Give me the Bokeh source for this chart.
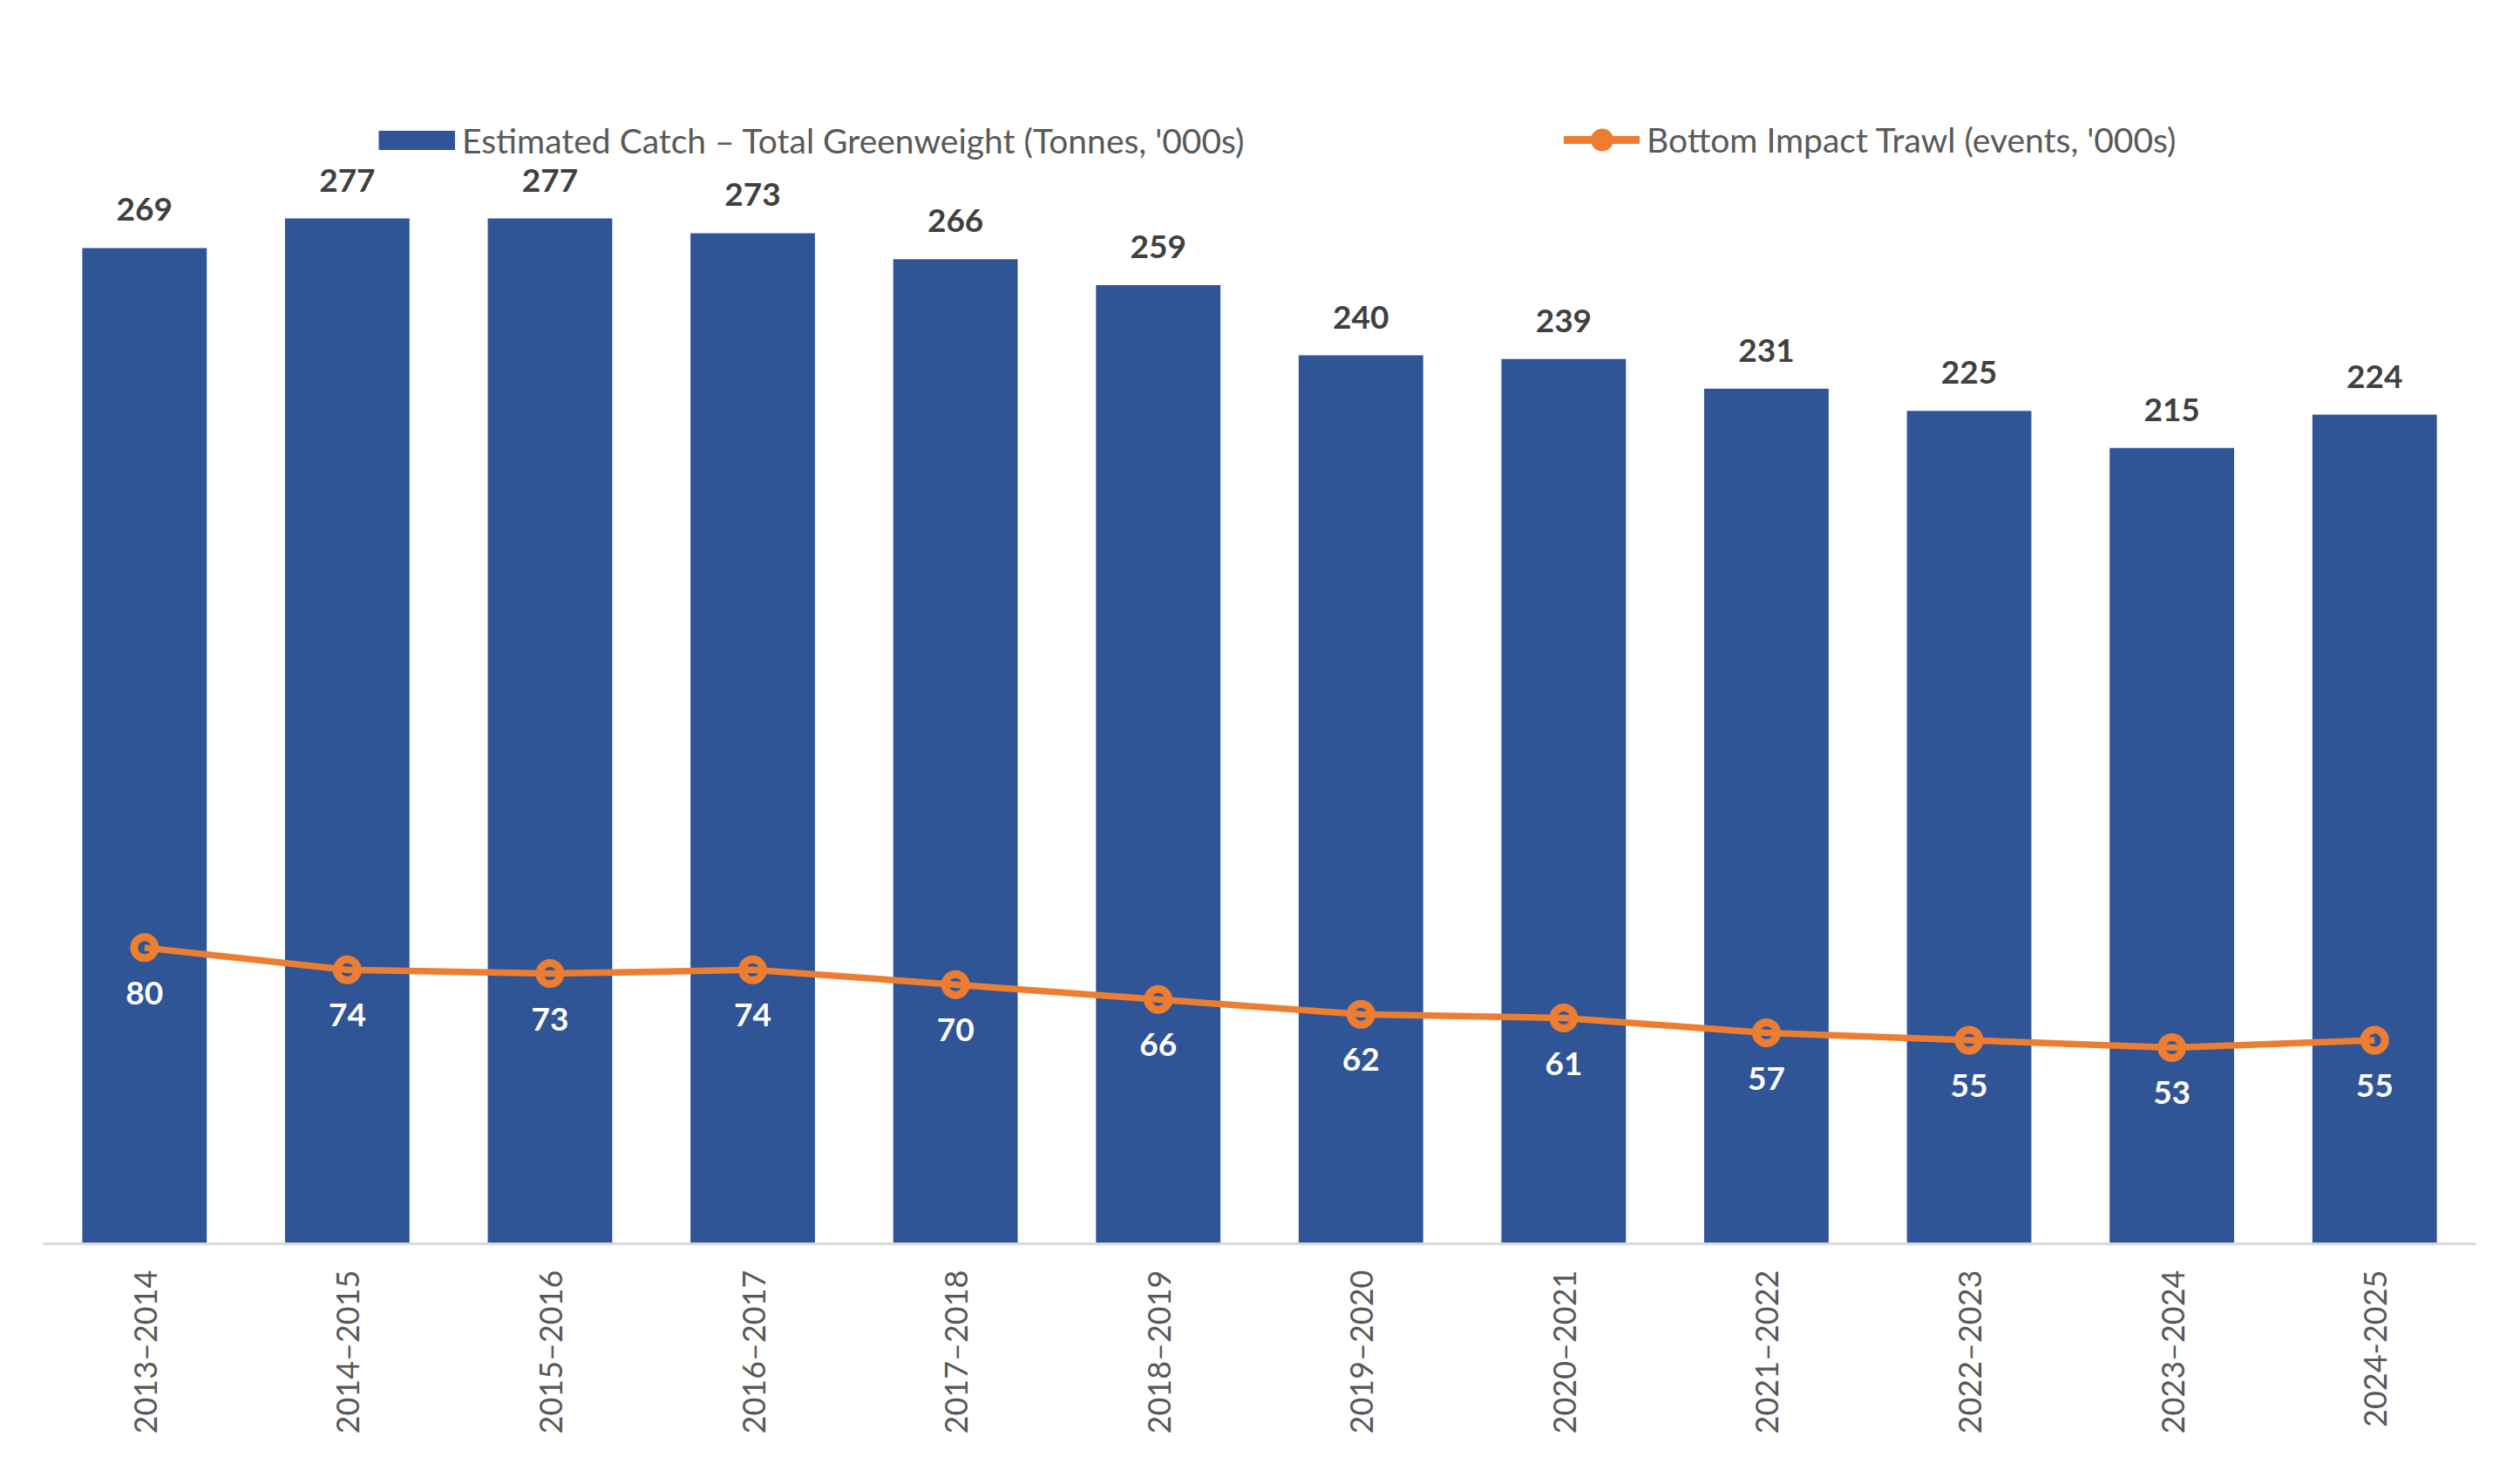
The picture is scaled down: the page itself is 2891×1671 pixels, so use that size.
import math
from bokeh.plotting import figure
from bokeh.models import ColumnDataSource, FactorRange, Range1d, Legend, LegendItem
from bokeh.core.properties import value
from bokeh.embed import file_html
from bokeh.resources import INLINE

# ---- data ----
seasons = ["2013–2014", "2014–2015", "2015–2016", "2016–2017", "2017–2018", "2018–2019",
           "2019–2020", "2020–2021", "2021–2022", "2022–2023", "2023–2024", "2024-2025"]
catch = [269, 277, 277, 273, 266, 259, 240, 239, 231, 225, 215, 224]
trawl = [80, 74, 73, 74, 70, 66, 62, 61, 57, 55, 53, 55]
catch_label = "Estimated Catch – Total Greenweight (Tonnes, '000s)"
trawl_label = "Bottom Impact Trawl (events, '000s)"

BLUE = "#2F5597"
ORANGE = "#ED7D31"
GREY_TXT = "#595959"
DARK_TXT = "#404040"
FONT = "Lato"

src = ColumnDataSource(dict(
    season=seasons, catch=catch, trawl=trawl,
    catch_txt=[str(v) for v in catch],
    trawl_txt=[str(v) for v in trawl],
))

p = figure(x_range=FactorRange(factors=seasons, range_padding=0),
           y_range=Range1d(0, 330),
           width=2877, height=1657, output_backend="svg", toolbar_location=None,
           min_border_left=49, min_border_right=37, min_border_top=25, min_border_bottom=231)

bars = p.vbar(x="season", top="catch", width=0.614, source=src,
              fill_color=BLUE, line_color=None)
line = p.line(x="season", y="trawl", source=src, line_color=ORANGE, line_width=7.5,
              line_join="round")
marks = p.scatter(x="season", y="trawl", source=src, size=24, fill_alpha=0,
                  line_color=ORANGE, line_width=9)

p.text(x="season", y="catch", text="catch_txt", source=src, text_font=value(FONT),
       text_font_style="bold", text_font_size="37px", text_color=DARK_TXT,
       text_align="center", text_baseline="middle", y_offset=-44)
p.text(x="season", y="trawl", text="trawl_txt", source=src, text_font=value(FONT),
       text_font_style="bold", text_font_size="37px", text_color="white",
       text_align="center", text_baseline="middle", y_offset=52)

# legend proxies (not drawn in the plot)
leg_bar = p.line(x="season", y="catch", source=src, line_color=BLUE, line_width=22,
                 line_cap="butt", visible=False)
leg_line = p.line(x="season", y="trawl", source=src, line_color=ORANGE, line_width=9,
                  line_cap="round", visible=False)
leg_mark = p.scatter(x="season", y="trawl", source=src, fill_color=ORANGE,
                     line_color=ORANGE, line_width=2, visible=False)

common = dict(orientation="horizontal", padding=0, margin=0, spacing=0,
              border_line_alpha=0, background_fill_alpha=0,
              label_text_font=FONT, label_text_font_size="39px",
              label_text_color=GREY_TXT, label_standoff=8)
leg1 = Legend(items=[LegendItem(label=catch_label, renderers=[leg_bar])],
              location=(385, 1242), glyph_width=88, glyph_height=47, **common)
leg2 = Legend(items=[LegendItem(label=trawl_label, renderers=[leg_line, leg_mark])],
              location=(1745, 1236), glyph_width=87, glyph_height=60, **common)
p.add_layout(leg1)
p.add_layout(leg2)

p.xaxis.major_label_orientation = math.pi / 2
p.xaxis.major_label_text_font = FONT
p.xaxis.major_label_text_font_size = "36px"
p.xaxis.major_label_text_color = GREY_TXT
p.xaxis.axis_line_color = "#D9D9D9"
p.xaxis.axis_line_width = 3
p.xaxis.major_tick_line_color = None
p.xaxis.minor_tick_line_color = None
p.xaxis.major_label_standoff = 24
p.yaxis.visible = False
p.xgrid.visible = False
p.ygrid.visible = False
p.outline_line_color = None
p.background_fill_color = "white"
p.border_fill_color = "white"

open("out.html", "w").write(file_html(p, INLINE))
